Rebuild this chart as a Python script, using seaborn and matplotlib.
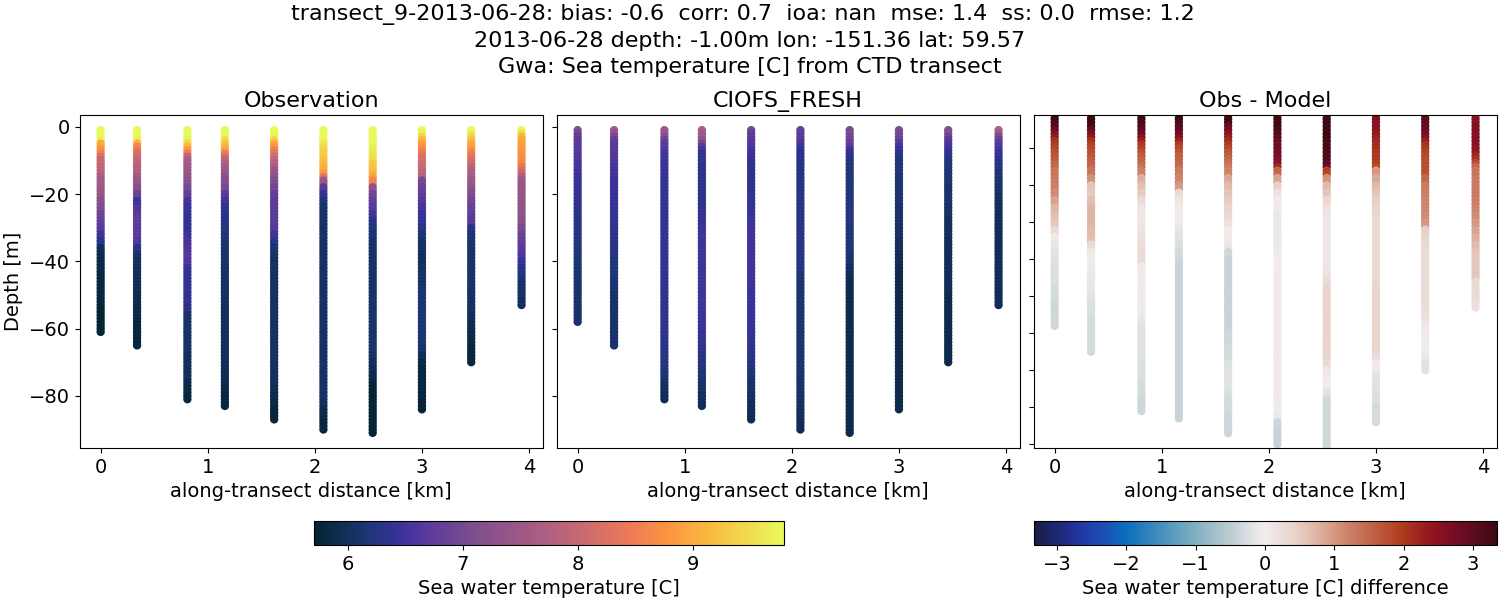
import numpy as np
import pandas as pd
import seaborn as sns
import matplotlib
matplotlib.use('Agg')
import matplotlib.pyplot as plt
from matplotlib.cm import ScalarMappable
from matplotlib.colors import LinearSegmentedColormap, Normalize

# station positions along the transect [km]
distance = [0, 0.34, 0.81, 1.16, 1.62, 2.08, 2.54, 3.0, 3.46, 3.93]
bottom_obs = [-61, -65, -81, -83, -87, -90, -91, -84, -70, -53]
bottom_model = [-58, -65, -81, -83, -87, -90, -91, -84, -70, -53]

# depth bins, each reading holds down from the bin above
levels = [-1, -2, -3, -4, -5, -6, -7, -8, -9, -10, -11, -12, -13, -14, -15,
          -17, -19, -21, -23, -25, -27, -29, -31, -33, -35, -37, -39, -41, -43, -45,
          -47, -49, -51, -53, -55, -57, -59, -61, -63, -65, -67, -69, -71, -73, -75,
          -77, -79, -81, -83, -85, -87, -89]

obs_temp = [
    [9.8, 9.8, 9.8, 9.7, 9.0, 8.9, 8.7, 8.5, 8.2, 8.0, 8.0, 7.9, 7.9, 7.8, 7.7,
     7.6, 7.5, 7.4, 7.2, 7.1, 6.9, 6.8, 6.7, 6.5, 6.3, 5.95, 5.9, 5.85, 5.85, 5.8,
     5.8, 5.8, 5.8, 5.8, 5.75, 5.75, 5.75, 5.75],
    [9.8, 9.8, 9.8, 9.7, 9.0, 8.6, 8.4, 8.2, 8.1, 8.0, 7.9, 7.8, 7.8, 7.7, 7.6,
     7.4, 7.2, 6.9, 6.5, 6.6, 6.7, 6.75, 6.7, 6.7, 6.6, 6.3, 6.1, 6.0, 6.0, 6.0,
     5.95, 5.95, 5.9, 5.9, 5.85, 5.85, 5.8, 5.8, 5.8, 5.8],
    [9.8, 9.8, 9.8, 9.7, 9.4, 9.1, 8.8, 8.4, 7.9, 7.7, 7.6, 7.5, 7.45, 7.4, 7.35,
     7.25, 7.0, 6.8, 6.55, 6.45, 6.4, 6.4, 6.4, 6.5, 6.55, 6.6, 6.65, 6.6, 6.45, 6.4,
     6.4, 6.4, 6.35, 6.35, 6.3, 6.1, 6.1, 6.1, 6.05, 6.05, 6.05, 6.0, 6.0, 6.0, 6.0,
     5.9, 5.85, 5.8],
    [9.8, 9.8, 9.8, 9.5, 9.3, 9.1, 8.9, 8.5, 8.1, 7.9, 7.7, 7.6, 7.5, 7.4, 7.3,
     7.2, 7.0, 6.7, 6.5, 6.4, 6.3, 6.3, 6.25, 6.2, 6.15, 6.1, 6.1, 6.1, 6.05, 6.05,
     6.05, 6.05, 6.05, 6.0, 6.0, 6.0, 6.0, 6.0, 6.0, 6.0, 6.0, 6.0, 5.95, 5.95, 5.95,
     5.9, 5.85, 5.8, 5.8],
    [9.8, 9.8, 9.7, 9.4, 9.0, 8.8, 8.5, 8.3, 8.1, 7.9, 7.8, 7.7, 7.5, 7.4, 7.3,
     7.1, 6.95, 6.8, 6.7, 6.7, 6.7, 6.7, 6.65, 6.5, 6.35, 6.15, 6.1, 6.05, 6.05, 6.05,
     6.05, 6.05, 6.05, 6.05, 6.05, 6.05, 6.05, 6.05, 6.05, 6.05, 6.05, 6.05, 6.05, 6.05, 6.0,
     6.0, 5.95, 5.9, 5.85, 5.8, 5.8],
    [9.8, 9.8, 9.8, 9.75, 9.6, 9.5, 9.4, 9.35, 9.3, 9.2, 9.15, 9.05, 9.0, 8.8, 8.3,
     7.4, 6.7, 6.4, 6.2, 6.1, 6.1, 6.05, 6.05, 6.05, 6.05, 6.05, 6.05, 6.05, 6.05, 6.05,
     6.05, 6.05, 6.05, 6.05, 6.05, 6.05, 6.05, 6.05, 6.05, 6.05, 6.05, 6.05, 6.05, 6.05, 6.05,
     6.05, 6.05, 6.05, 6.0, 5.9, 5.85, 5.8, 5.8],
    [9.8, 9.8, 9.8, 9.8, 9.75, 9.7, 9.65, 9.6, 9.55, 9.5, 9.3, 9.25, 9.2, 9.1, 8.9,
     8.6, 7.3, 6.95, 6.75, 6.65, 6.5, 6.3, 6.2, 6.15, 6.1, 6.05, 6.05, 6.05, 6.05, 6.05,
     6.05, 6.05, 6.05, 6.1, 6.1, 6.1, 6.1, 6.1, 6.1, 6.1, 6.1, 6.05, 6.0, 5.95, 5.9,
     5.8, 5.75, 5.75, 5.75, 5.75, 5.75, 5.75, 5.75],
    [9.8, 9.7, 9.4, 9.1, 8.9, 8.8, 8.6, 8.4, 8.2, 8.15, 8.1, 8.05, 8.0, 7.9, 7.8,
     7.0, 6.85, 6.75, 6.65, 6.55, 6.45, 6.4, 6.3, 6.15, 6.05, 6.05, 6.0, 6.0, 6.05, 6.1,
     6.1, 6.15, 6.15, 6.15, 6.15, 6.15, 6.15, 6.15, 6.15, 6.15, 6.1, 5.95, 5.85, 5.8, 5.8,
     5.8, 5.8, 5.8, 5.75, 5.75],
    [9.8, 9.7, 9.4, 9.2, 9.0, 8.9, 8.7, 8.5, 8.4, 8.2, 8.1, 7.9, 7.75, 7.7, 7.65,
     7.5, 7.3, 7.1, 6.95, 6.85, 6.75, 6.7, 6.3, 6.15, 6.15, 6.1, 6.1, 6.1, 6.1, 6.1,
     6.1, 6.05, 6.05, 6.05, 6.05, 6.0, 5.95, 5.9, 5.85, 5.85, 5.8, 5.8, 5.8],
    [9.8, 9.5, 9.1, 8.95, 8.9, 8.85, 8.8, 8.75, 8.7, 8.65, 8.6, 8.4, 8.2, 8.0, 7.75,
     7.45, 7.4, 7.4, 7.35, 7.35, 7.3, 7.2, 7.05, 6.9, 6.8, 6.7, 6.6, 6.45, 6.3, 6.2,
     6.1, 6.05, 6.05, 6.0],
]

model_temp = [
    [7.15, 6.95, 6.75, 6.7, 6.7, 6.65, 6.65, 6.65, 6.6, 6.6, 6.55, 6.55, 6.5, 6.5, 6.45,
     6.45, 6.4, 6.4, 6.35, 6.35, 6.3, 6.3, 6.3, 6.25, 6.25, 6.2, 6.2, 6.15, 6.15, 6.15,
     6.1, 6.1, 6.1, 6.1, 6.1, 6.1, 6.1],
    [7.5, 7.3, 7.0, 6.8, 6.7, 6.7, 6.7, 6.65, 6.65, 6.6, 6.6, 6.55, 6.55, 6.5, 6.5,
     6.45, 6.45, 6.45, 6.45, 6.4, 6.4, 6.4, 6.35, 6.35, 6.3, 6.3, 6.25, 6.2, 6.2, 6.2,
     6.15, 6.15, 6.1, 6.1, 6.1, 6.1, 6.1, 6.1, 6.1, 6.1],
    [7.5, 7.4, 7.2, 6.9, 6.7, 6.65, 6.6, 6.55, 6.5, 6.5, 6.45, 6.45, 6.45, 6.45, 6.4,
     6.4, 6.4, 6.4, 6.4, 6.4, 6.4, 6.4, 6.4, 6.4, 6.4, 6.4, 6.4, 6.4, 6.4, 6.4,
     6.35, 6.35, 6.35, 6.35, 6.35, 6.35, 6.35, 6.35, 6.35, 6.3, 6.3, 6.3, 6.25, 6.2, 6.15,
     6.05, 6.0, 5.95],
    [7.6, 7.55, 7.5, 7.3, 7.0, 6.7, 6.55, 6.4, 6.4, 6.4, 6.4, 6.35, 6.35, 6.35, 6.35,
     6.35, 6.35, 6.35, 6.35, 6.35, 6.4, 6.45, 6.5, 6.5, 6.5, 6.5, 6.5, 6.5, 6.5, 6.5,
     6.5, 6.5, 6.5, 6.5, 6.5, 6.45, 6.45, 6.45, 6.4, 6.4, 6.35, 6.3, 6.25, 6.2, 6.15,
     6.1, 6.05, 6.0, 5.95],
    [6.95, 6.8, 6.75, 6.7, 6.65, 6.6, 6.55, 6.5, 6.45, 6.4, 6.35, 6.35, 6.35, 6.35, 6.35,
     6.35, 6.35, 6.35, 6.4, 6.4, 6.45, 6.5, 6.5, 6.5, 6.5, 6.5, 6.5, 6.5, 6.5, 6.5,
     6.5, 6.45, 6.45, 6.45, 6.45, 6.45, 6.45, 6.4, 6.4, 6.35, 6.35, 6.3, 6.25, 6.2, 6.15,
     6.1, 6.1, 6.05, 6.0, 5.95, 5.95],
    [6.8, 6.75, 6.7, 6.65, 6.55, 6.5, 6.4, 6.3, 6.3, 6.3, 6.25, 6.25, 6.25, 6.25, 6.25,
     6.25, 6.25, 6.3, 6.3, 6.3, 6.3, 6.3, 6.3, 6.3, 6.3, 6.3, 6.3, 6.3, 6.25, 6.2,
     6.15, 6.15, 6.15, 6.15, 6.15, 6.15, 6.15, 6.15, 6.15, 6.15, 6.15, 6.15, 6.15, 6.15, 6.1,
     6.1, 6.1, 6.05, 6.05, 6.0, 6.0, 5.95, 5.95],
    [7.05, 7.05, 7.0, 6.9, 6.85, 6.7, 6.5, 6.4, 6.3, 6.25, 6.25, 6.2, 6.2, 6.2, 6.2,
     6.2, 6.2, 6.2, 6.25, 6.25, 6.25, 6.25, 6.2, 6.2, 6.2, 6.2, 6.15, 6.1, 6.0, 5.95,
     5.9, 5.9, 5.9, 5.9, 5.9, 5.9, 5.9, 5.9, 5.9, 5.9, 5.9, 5.9, 5.9, 5.9, 5.9,
     5.9, 5.9, 5.9, 5.9, 5.9, 5.9, 5.9, 5.9],
    [7.05, 7.0, 6.95, 6.85, 6.7, 6.55, 6.45, 6.3, 6.25, 6.2, 6.2, 6.2, 6.2, 6.2, 6.15,
     6.15, 6.15, 6.15, 6.15, 6.1, 6.1, 6.1, 6.05, 6.05, 6.0, 6.0, 5.95, 5.95, 5.9, 5.9,
     5.9, 5.9, 5.9, 5.9, 5.9, 5.9, 5.9, 5.9, 5.9, 5.9, 5.9, 5.9, 5.9, 5.9, 5.9,
     5.9, 5.9, 5.9, 5.9, 5.9],
    [7.15, 7.1, 6.9, 6.7, 6.6, 6.55, 6.45, 6.4, 6.3, 6.25, 6.2, 6.2, 6.15, 6.15, 6.15,
     6.15, 6.1, 6.1, 6.1, 6.05, 6.05, 6.0, 6.0, 6.0, 5.95, 5.95, 5.95, 5.95, 5.95, 5.95,
     5.95, 5.95, 5.9, 5.9, 5.9, 5.9, 5.9, 5.9, 5.9, 5.9, 5.9, 5.9, 5.9],
    [7.7, 7.5, 7.1, 6.8, 6.7, 6.6, 6.5, 6.45, 6.4, 6.3, 6.3, 6.25, 6.2, 6.15, 6.15,
     6.15, 6.1, 6.05, 6.0, 6.0, 5.95, 5.95, 5.95, 5.95, 5.95, 5.95, 5.95, 5.95, 5.95, 5.95,
     5.95, 5.95, 5.95, 5.95],
]

diff_temp = [
    [3.3, 3.3, 3.2, 3.1, 2.9, 2.6, 2.4, 2.1, 2.0, 1.9, 1.8, 1.7, 1.65, 1.55, 1.5,
     1.35, 1.3, 1.25, 1.1, 0.9, 0.75, 0.65, 0.55, 0.3, 0.05, -0.15, -0.2, -0.2, -0.25, -0.25,
     -0.25, -0.3, -0.3, -0.35, -0.35, -0.35, -0.35],
    [3.3, 3.3, 3.3, 3.2, 2.95, 2.7, 2.4, 2.1, 1.95, 1.85, 1.75, 1.7, 1.6, 1.55, 1.5,
     1.35, 1.05, 0.6, 0.5, 0.65, 0.75, 0.75, 0.75, 0.7, 0.65, 0.3, 0.05, 0, -0.05, -0.1,
     -0.1, -0.15, -0.2, -0.25, -0.25, -0.3, -0.3, -0.3, -0.3, -0.3],
    [3.3, 3.3, 3.2, 3.1, 3.0, 2.85, 2.6, 2.3, 2.0, 1.9, 1.75, 1.65, 1.55, 1.5, 1.4,
     1.25, 0.8, 0.65, 0.5, 0.3, 0.15, 0.12, 0.12, 0.15, 0.2, 0.25, 0.3, 0.3, 0.05, 0.03,
     0.03, 0.03, 0.03, 0.03, 0, -0.15, -0.2, -0.2, -0.2, -0.2, -0.2, -0.25, -0.25, -0.25, -0.3,
     -0.3, -0.35, -0.35],
    [3.3, 3.3, 3.2, 3.1, 3.0, 2.8, 2.6, 2.3, 2.0, 1.85, 1.7, 1.6, 1.55, 1.5, 1.45,
     1.3, 1.2, 1.0, 0.35, 0.15, 0.05, 0, -0.05, -0.15, -0.2, -0.25, -0.3, -0.35, -0.4, -0.4,
     -0.4, -0.4, -0.4, -0.4, -0.4, -0.4, -0.4, -0.4, -0.4, -0.4, -0.4, -0.4, -0.4, -0.4, -0.4,
     -0.4, -0.4, -0.4, -0.4],
    [3.3, 3.3, 3.3, 2.9, 2.7, 2.5, 2.3, 2.15, 2.0, 1.85, 1.7, 1.6, 1.5, 1.4, 1.3,
     1.2, 0.85, 0.7, 0.6, 0.5, 0.4, 0.35, 0.2, 0.05, 0, -0.1, -0.35, -0.4, -0.4, -0.4,
     -0.4, -0.4, -0.4, -0.4, -0.4, -0.4, -0.4, -0.35, -0.35, -0.3, -0.3, -0.25, -0.2, -0.2, -0.2,
     -0.25, -0.3, -0.3, -0.35, -0.35, -0.35],
    [3.3, 3.3, 3.3, 3.3, 3.2, 3.1, 3.0, 2.9, 2.8, 2.8, 2.7, 2.7, 2.6, 2.5, 2.2,
     1.5, 0.9, 0.45, 0.2, 0.05, -0.05, -0.1, -0.1, -0.1, -0.1, -0.1, -0.05, 0, 0.02, 0.03,
     0.05, 0.05, 0.05, 0.05, 0.05, 0.05, 0.05, 0.05, 0.05, 0.05, 0.05, 0.05, 0.05, 0.05, 0.05,
     0.05, 0.05, 0, -0.1, -0.35, -0.4, -0.4, -0.4],
    [3.3, 3.3, 3.3, 3.3, 3.3, 3.3, 3.3, 3.25, 3.2, 3.2, 3.15, 3.1, 3.1, 3.0, 2.9,
     1.9, 1.05, 0.7, 0.55, 0.35, 0.2, 0.15, 0.1, 0.1, 0.1, 0.1, 0.1, 0.1, 0.15, 0.2,
     0.3, 0.4, 0.4, 0.4, 0.4, 0.4, 0.4, 0.4, 0.4, 0.4, 0.4, 0.3, 0.1, 0.05, 0,
     -0.2, -0.35, -0.35, -0.35, -0.35, -0.35, -0.35, -0.35],
    [2.7, 2.65, 2.6, 2.55, 2.5, 2.4, 2.3, 2.2, 2.15, 2.1, 2.05, 2.0, 2.0, 1.95, 1.85,
     1.0, 0.85, 0.7, 0.55, 0.45, 0.4, 0.35, 0.3, 0.3, 0.3, 0.3, 0.3, 0.3, 0.3, 0.35,
     0.35, 0.4, 0.4, 0.4, 0.4, 0.4, 0.4, 0.4, 0.4, 0.4, 0.3, 0.05, -0.1, -0.2, -0.2,
     -0.25, -0.25, -0.3, -0.3, -0.3],
    [3.0, 3.0, 2.95, 2.9, 2.85, 2.75, 2.6, 2.3, 2.1, 2.0, 1.9, 1.85, 1.8, 1.8, 1.8,
     1.75, 1.5, 1.3, 1.25, 1.2, 1.15, 1.1, 1.0, 0.45, 0.4, 0.35, 0.3, 0.3, 0.3, 0.3,
     0.3, 0.3, 0.3, 0.3, 0.25, 0.2, 0.1, 0.05, 0.03, 0, -0.05, -0.2, -0.2],
    [2.4, 2.45, 2.55, 2.6, 2.6, 2.6, 2.55, 2.5, 2.5, 2.45, 2.4, 2.2, 2.1, 1.8, 1.5,
     1.35, 1.3, 1.3, 1.3, 1.25, 1.2, 1.1, 1.0, 0.9, 0.8, 0.7, 0.6, 0.55, 0.55, 0.55,
     0.35, 0.3, 0.3, 0.25],
]

title_lines = ('transect_9-2013-06-28: bias: -0.6  corr: 0.7  ioa: nan  mse: 1.4  ss: 0.0  rmse: 1.2  \n'
               '2013-06-28 depth: -1.00m lon: -151.36 lat: 59.57\n'
               'Gwa: Sea temperature [C] from CTD transect')
temp_ticks = [6, 7, 8, 9]
diff_ticks = [-3, -2, -1, 0, 1, 2, 3]
depth_ticks = [-80, -60, -40, -20, 0]
diff_depth_ticks = [-90, -80, -70, -60, -50, -40, -30, -20, -10]

# no cmocean here, so thermal and balance are rebuilt from sampled colours
thermal = LinearSegmentedColormap.from_list('thermal', [
    (0, '#042333'), (0.11, '#1c3673'), (0.18, '#38329a'), (0.23, '#55399c'), (0.33, '#7a4c8f'),
    (0.5, '#b15f82'), (0.667, '#eb7958'), (0.75, '#fc9340'), (0.85, '#f9bd41'), (1, '#e8fa5b')])
balance = LinearSegmentedColormap.from_list('balance', [
    (0, '#181c43'), (0.09, '#21329a'), (0.13, '#2044ae'), (0.2, '#0c6ebd'), (1/3, '#75aabe'),
    (0.44, '#c9d3d7'), (0.47, '#e0e3e4'), (0.5, '#f1eceb'), (0.56, '#e9d6cf'), (0.61, '#dfb6a5'),
    (2/3, '#d08b73'), (0.79, '#b0401f'), (0.86, '#93141f'), (0.92, '#6f0d25'), (1, '#3c0912')])

temp_norm = Normalize(5.705, 9.79)
diff_norm = Normalize(-3.34, 3.34)


def pixel_axes(fig, left, top, right, bottom):
    return fig.add_axes([left/1500, 1 - bottom/600, (right - left)/1500, (bottom - top)/600])


def profile_frame(values, bottoms):
    rows = []
    for x, vals, bot in zip(distance, values, bottoms):
        prev = 0
        for d, v in zip(levels[:len(vals) - 1] + [bot], vals):
            for z in range(prev - 1, d - 1, -1):
                rows.append((x, z, v))
            prev = d
    return pd.DataFrame(rows, columns=['x', 'depth', 'temp'])


fig = plt.figure(figsize=(15, 6), dpi=100)
ax_obs = pixel_axes(fig, 79.6, 115, 542.6, 448)
ax_model = pixel_axes(fig, 556.6, 115, 1019.6, 448)
ax_diff = pixel_axes(fig, 1033.6, 115, 1496.6, 448)

panels = [(ax_obs, obs_temp, bottom_obs, thermal, temp_norm, 'Observation'),
          (ax_model, model_temp, bottom_model, thermal, temp_norm, 'CIOFS_FRESH'),
          (ax_diff, diff_temp, bottom_model, balance, diff_norm, 'Obs - Model')]
for ax, values, bottoms, cmap, norm, name in panels:
    df = profile_frame(values, bottoms)
    sns.scatterplot(data=df, x='x', y='depth', hue='temp', palette=cmap, hue_norm=norm,
                    s=36, linewidth=0, legend=False, ax=ax)
    ax.set_xlim(-0.1965, 4.1265)
    ax.set_xticks([0, 1, 2, 3, 4])
    ax.tick_params(labelsize=14)
    ax.set_xlabel('along-transect distance [km]', fontsize=14)
    ax.set_ylabel('')
    ax.set_title(name, fontsize=16)

ax_obs.set_ylim(-95.5, 3.5)
ax_obs.set_yticks(depth_ticks)
ax_obs.set_ylabel('Depth [m]', fontsize=14)
ax_model.set_ylim(-95.5, 3.5)
ax_model.set_yticks(depth_ticks)
ax_model.set_yticklabels([])
ax_diff.set_ylim(-91, -1)
ax_diff.set_yticks(diff_depth_ticks)
ax_diff.set_yticklabels([])

cax1 = pixel_axes(fig, 313.6, 521, 784.4, 545)
cb1 = fig.colorbar(ScalarMappable(temp_norm, thermal), cax=cax1, orientation='horizontal')
cb1.set_ticks(temp_ticks)
cb1.ax.tick_params(labelsize=14)
cb1.set_label('Sea water temperature [C]', fontsize=14)

cax2 = pixel_axes(fig, 1033.6, 521, 1496.6, 545)
cb2 = fig.colorbar(ScalarMappable(diff_norm, balance), cax=cax2, orientation='horizontal')
cb2.set_ticks(diff_ticks)
cb2.ax.tick_params(labelsize=14)
cb2.set_label('Sea water temperature [C] difference', fontsize=14)

fig.text(0.5, 1 - 40.5/600, title_lines, ha='center', va='center', fontsize=16, linespacing=1.35)
fig.savefig('out.png', dpi=100)
